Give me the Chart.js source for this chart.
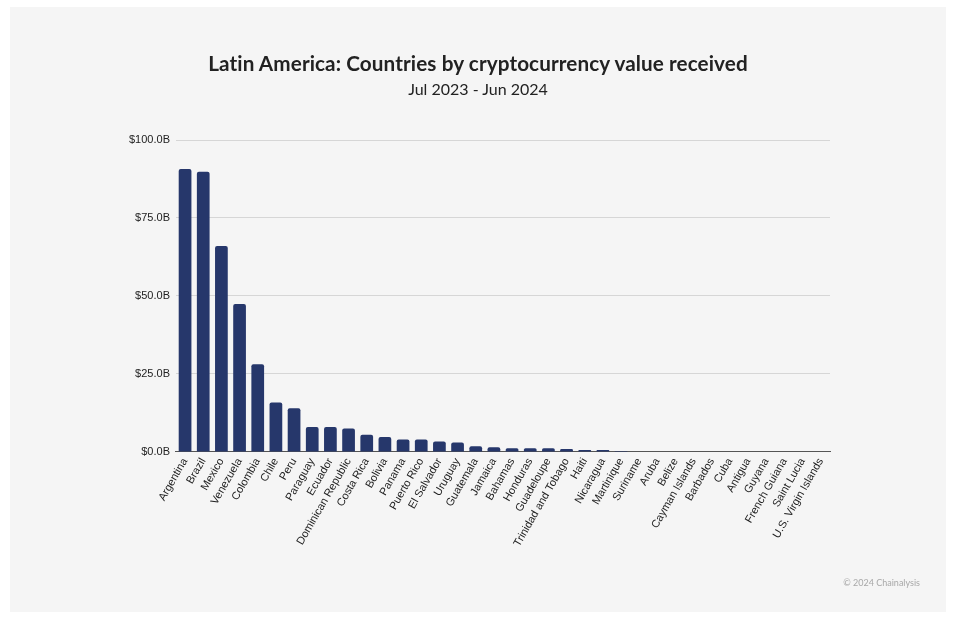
<!DOCTYPE html>
<html>
<head>
<meta charset="utf-8">
<script src="https://cdn.jsdelivr.net/npm/chart.js@4"></script>
<style>
  body { margin: 0; background: #fff; width: 960px; height: 620px; overflow: hidden; }
  #panel { position: absolute; left: 10px; top: 7px; width: 936px; height: 605px; background: #f5f5f5; }
  #wrap { position: absolute; left: 0; top: 0; width: 936px; height: 605px; }
  .head { position: absolute; left: 0; width: 936px; text-align: center; color: #222; font-family: Lato, sans-serif; }
  #title { top: 44px; font-size: 20.7px; font-weight: bold; letter-spacing: 0.1px; }
  #subtitle { top: 72px; font-size: 16px; }
  #credit { position: absolute; right: 26px; top: 570px; font: 9px Lato, sans-serif; color: #a8a8a8; }
</style>
</head>
<body>
<div id="panel">
  <div id="wrap"><canvas id="latamChart"></canvas></div>
  <div class="head" id="title">Latin America: Countries by cryptocurrency value received</div>
  <div class="head" id="subtitle">Jul 2023 - Jun 2024</div>
  <div id="credit">© 2024 Chainalysis</div>
</div>
<script>
const countries = ['Argentina', 'Brazil', 'Mexico', 'Venezuela', 'Colombia', 'Chile', 'Peru', 'Paraguay',
  'Ecuador', 'Dominican Republic', 'Costa Rica', 'Bolivia', 'Panama', 'Puerto Rico', 'El Salvador',
  'Uruguay', 'Guatemala', 'Jamaica', 'Bahamas', 'Honduras', 'Guadeloupe', 'Trinidad and Tobago', 'Haiti',
  'Nicaragua', 'Martinique', 'Suriname', 'Aruba', 'Belize', 'Cayman Islands', 'Barbados', 'Cuba',
  'Antigua', 'Guyana', 'French Guiana', 'Saint Lucia', 'U.S. Virgin Islands'];

// value received, billions USD
const valueReceived = [90.7, 89.8, 66.0, 47.4, 28.1, 15.8, 14.0, 8.0, 8.0, 7.5, 5.5, 4.8, 4.0, 4.0, 3.3,
  3.0, 1.8, 1.5, 1.2, 1.2, 1.2, 0.9, 0.6, 0.6, 0.3, 0, 0, 0, 0, 0, 0, 0, 0, 0, 0, 0];

const yTicks = [0, 25, 50, 75, 100];

const ctx = document.getElementById('latamChart').getContext('2d');

new Chart(ctx, {
  type: 'bar',
  data: {
    labels: countries,
    datasets: [{
      label: 'Value received',
      data: valueReceived,
      backgroundColor: '#26376b',
      borderRadius: { topLeft: 2, topRight: 2 },
      borderSkipped: 'bottom',
      categoryPercentage: 0.7,
      barPercentage: 1
    }]
  },
  options: {
    responsive: true,
    maintainAspectRatio: false,
    animation: false,
    layout: { padding: { left: 113, right: 116, top: 133, bottom: 59 } },
    plugins: {
      legend: { display: false },
      tooltip: { enabled: false }
    },
    scales: {
      x: {
        grid: { display: false, drawTicks: false },
        border: { color: '#555', width: 1 },
        ticks: {
          color: '#222',
          font: { family: 'Liberation Sans', size: 11 },
          maxRotation: 60,
          minRotation: 60,
          autoSkip: false,
          padding: 4
        }
      },
      y: {
        min: 0,
        max: 100,
        afterBuildTicks: axis => { axis.ticks = yTicks.map(v => ({ value: v })); },
        grid: { color: '#d6d6d6', drawTicks: false },
        border: { display: false },
        ticks: {
          color: '#222',
          font: { family: 'Liberation Sans', size: 11 },
          padding: 6,
          callback: v => '$' + v.toFixed(1) + 'B'
        }
      }
    }
  }
});
</script>
</body>
</html>
